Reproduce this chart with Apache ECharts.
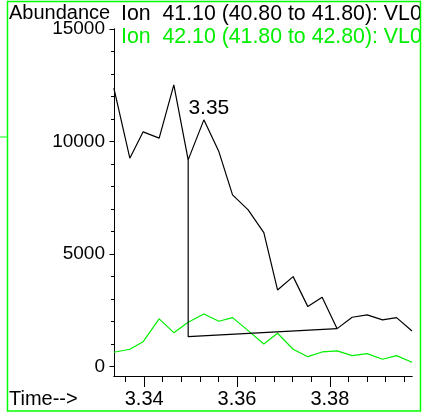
<!DOCTYPE html>
<html>
<head>
<meta charset="utf-8">
<title>Ion chromatogram</title>
<script src="https://cdn.jsdelivr.net/npm/echarts@6/dist/echarts.min.js"></script>
<style>
  html, body { margin: 0; padding: 0; background: #fff; }
  #main { width: 423px; height: 413px; }
</style>
</head>
<body>
<div id="main"></div>
<script>
// retention times (min) of each scan
var scanTimes = [3.33347, 3.33691, 3.33978, 3.34323, 3.34639, 3.34948, 3.35286, 3.35609, 3.35904, 3.36240,
  3.36578, 3.36873, 3.37209, 3.37526, 3.37834, 3.38157, 3.38481, 3.38804, 3.39135, 3.39437, 3.3977];
// ion 41.10
var ion41 = [12373, 9262, 10431, 10151, 12520, 9187, 10964, 9555, 7631, 6964,
  5955, 3409, 4000, 2667, 3084, 1689, 2195, 2298, 2076, 2178, 1587];
// ion 42.10
var ion42 = [640, 773, 1111, 2120, 1511, 1973, 2342, 2018, 2178, 1600,
  1009, 1484, 773, 444, 653, 698, 489, 578, 329, 489, 196];
// integration baseline of the 3.35 peak
var baselineTimes = [3.34948, 3.34948, 3.38157];
var baselineValues = [9187, 1333, 1689];
var peakIndex = 6;
var peakLabel = '3.35';

var legendNames = ['Ion  41.10 (40.80 to 41.80): VL0', 'Ion  42.10 (41.80 to 42.80): VL0'];
var yMajorTicks = [0, 5000, 10000, 15000];
var yMinorTicks = [0, 1000, 2000, 3000, 4000, 5000, 6000, 7000, 8000, 9000, 10000, 11000, 12000, 13000, 14000, 15000];
var xMajorTicks = [3.34, 3.36, 3.38];
var xMinorTicks = [3.336, 3.340, 3.344, 3.348, 3.352, 3.356, 3.360, 3.364, 3.368, 3.372, 3.376, 3.380, 3.384, 3.388, 3.392, 3.396];

var FONT = "'Liberation Sans', Arial, sans-serif";
var GREEN = '#00ee00';

function pairs(xs, ys) {
  return xs.map(function (x, i) { return [x, ys[i]]; });
}

var yBase = { type: 'value', min: -415, max: 15000, position: 'left', offset: 0,
  splitLine: { show: false },
  axisLine: { show: true, lineStyle: { color: '#000', width: 1 } } };
var xBase = { type: 'value', min: 3.3335, max: 3.3977, position: 'bottom', offset: 0,
  splitLine: { show: false },
  axisLine: { show: true, onZero: false, lineStyle: { color: '#000', width: 1 } } };

var option = {
  animation: false,
  backgroundColor: '#fff',
  title: {
    text: 'Abundance', left: 9, top: 3, padding: 0,
    textStyle: { color: '#000', fontSize: 20, fontWeight: 'normal', fontFamily: FONT }
  },
  legend: {
    orient: 'vertical', left: 116, top: 4, padding: 0, itemGap: 2,
    icon: 'none', itemWidth: 0, selectedMode: false,
    textStyle: { fontSize: 21.3, fontFamily: FONT },
    data: [
      { name: legendNames[0], textStyle: { color: '#000' } },
      { name: legendNames[1], textStyle: { color: GREEN } }
    ]
  },
  grid: { left: 114, right: 11, top: 29, bottom: 37 },
  xAxis: [
    Object.assign({}, xBase, {
      axisTick: { show: true, length: 6, customValues: xMinorTicks, lineStyle: { color: '#000' } },
      axisLabel: { show: false }
    }),
    Object.assign({}, xBase, {
      axisTick: { show: true, length: 11, customValues: xMajorTicks, lineStyle: { color: '#000' } },
      axisLabel: { show: true, customValues: xMajorTicks, margin: 13, color: '#000', fontSize: 20, fontFamily: FONT,
        formatter: function (v) { return v.toFixed(2); } }
    })
  ],
  yAxis: [
    Object.assign({}, yBase, {
      axisTick: { show: true, length: 3, customValues: yMinorTicks, lineStyle: { color: '#000' } },
      axisLabel: { show: false }
    }),
    Object.assign({}, yBase, {
      axisTick: { show: true, length: 4.5, customValues: yMajorTicks, lineStyle: { color: '#000' } },
      axisLabel: { show: true, customValues: yMajorTicks, margin: 9, color: '#000', fontSize: 19, fontFamily: FONT,
        formatter: function (v) { return String(v); } }
    })
  ],
  series: [
    {
      name: legendNames[0], type: 'line', data: pairs(scanTimes, ion41),
      showSymbol: false, symbol: 'none', color: '#000',
      lineStyle: { color: '#000', width: 1.2 },
      markPoint: {
        symbol: 'circle', symbolSize: 0, silent: true,
        label: { show: true, position: 'top', distance: 3, offset: [5, 2], color: '#000', fontSize: 21, fontFamily: FONT },
        data: [{ coord: [scanTimes[peakIndex], ion41[peakIndex]], value: peakLabel }]
      }
    },
    {
      name: legendNames[1], type: 'line', data: pairs(scanTimes, ion42),
      showSymbol: false, symbol: 'none', color: GREEN,
      lineStyle: { color: GREEN, width: 1.2 }
    },
    {
      name: 'baseline', type: 'line', data: pairs(baselineTimes, baselineValues),
      showSymbol: false, symbol: 'none', color: '#000',
      lineStyle: { color: '#000', width: 1.2 }
    }
  ],
  graphic: [
    { type: 'rect', shape: { x: 7.5, y: 1.5, width: 413, height: 409.5 },
      style: { fill: 'none', stroke: '#00ff00', lineWidth: 1.5 }, z: 100 },
    { type: 'line', shape: { x1: 0, y1: 137, x2: 7, y2: 137 },
      style: { stroke: '#00ff00', lineWidth: 1 } },
    { type: 'text', left: 9, top: 389,
      style: { text: 'Time-->', fill: '#000', font: '20px ' + FONT } }
  ]
};

var chart = echarts.init(document.getElementById('main'), null, { renderer: 'canvas' });
chart.setOption(option);
</script>
</body>
</html>
